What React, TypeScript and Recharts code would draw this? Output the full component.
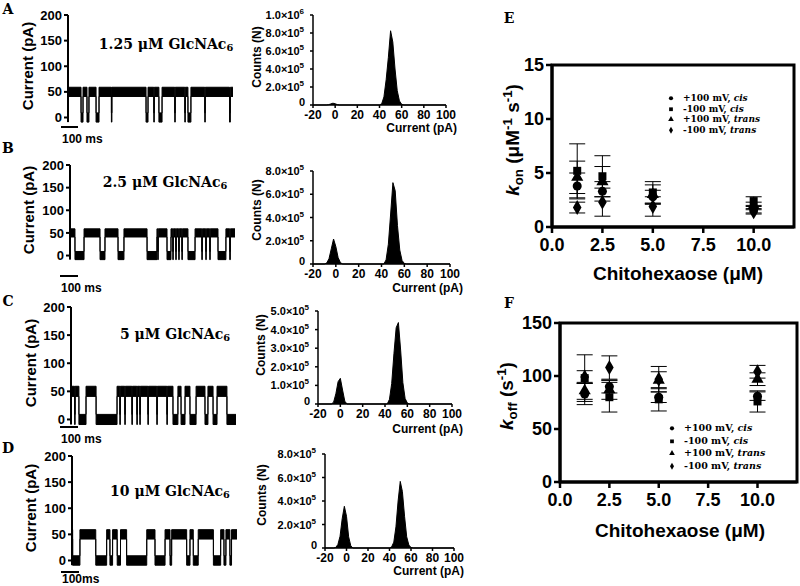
import React from 'react';
import {
  Area,
  ComposedChart,
  ErrorBar,
  Legend,
  ReferenceArea,
  Scatter,
  ScatterChart,
  Symbols,
  XAxis,
  YAxis,
  ZAxis,
} from 'recharts';

const sans = "'Liberation Sans', Arial, sans-serif";
const serif = "'DejaVu Serif', serif";

// single-channel recordings: closed-state windows in ms
const traceLenMs = 1000;
const openLevel = 50;
const closedLevel = 0;
const noiseHalf = 9;
const closedA = [[79, 91], [115, 127], [170, 188], [263, 266], [473, 485], [520, 523], [551, 570], [647, 650], [708, 711], [727, 745], [829, 832], [979, 984]];
const closedB = [[30, 85], [182, 212], [291, 327], [467, 527], [532, 535], [588, 612], [623, 626], [641, 644], [659, 662], [678, 681], [715, 758], [799, 802], [823, 826], [847, 850], [897, 945], [968, 972]];
const closedC = [[22, 25], [48, 91], [152, 279], [296, 299], [326, 329], [369, 372], [399, 402], [417, 420], [466, 469], [520, 523], [581, 584], [618, 648], [667, 691], [721, 758], [812, 830], [861, 885], [945, 1000]];
const closedD = [[4, 48], [144, 210], [230, 246], [274, 294], [331, 453], [503, 564], [594, 604], [695, 715], [735, 765], [857, 901], [921, 933], [957, 967]];
const traceTicks = [0, 50, 100, 150, 200];

// all-points histograms
const histBinsA = [-20, -8, -6, -4, -2, 0, 2, 4, 40, 42, 44, 46, 48, 50, 52, 54, 56, 58, 60, 62, 100];
const histCountsA = [0, 0, 3000, 12000, 20000, 14000, 4000, 0, 0, 15000, 90000, 280000, 530000, 825000, 700000, 400000, 160000, 45000, 8000, 0, 0];
const histBinsB = [-20, -10, -8, -6, -4, -2, 0, 2, 4, 6, 42, 44, 46, 48, 50, 52, 54, 56, 58, 60, 62, 100];
const histCountsB = [0, 0, 8000, 45000, 130000, 215000, 150000, 55000, 12000, 0, 0, 35000, 170000, 430000, 700000, 630000, 330000, 120000, 30000, 5000, 0, 0];
const histBinsC = [-20, -8, -6, -4, -2, 0, 2, 4, 6, 42, 44, 46, 48, 50, 52, 54, 56, 58, 60, 62, 100];
const histCountsC = [0, 0, 10000, 55000, 120000, 138000, 75000, 15000, 0, 0, 25000, 110000, 270000, 410000, 438000, 290000, 115000, 30000, 5000, 0, 0];
const histBinsD = [-20, -12, -10, -8, -6, -4, -2, 0, 2, 4, 6, 40, 42, 44, 46, 48, 50, 52, 54, 56, 58, 60, 62, 100];
const histCountsD = [0, 0, 5000, 30000, 100000, 250000, 355000, 270000, 95000, 18000, 0, 0, 10000, 50000, 180000, 400000, 567000, 480000, 270000, 95000, 25000, 5000, 0, 0];
const histXTicks = [-20, 0, 20, 40, 60, 80, 100];
const histTicksA = [0, 200000, 400000, 600000, 800000, 1000000];
const histTicksB = [0, 200000, 400000, 600000, 800000];
const histTicksC = [0, 100000, 200000, 300000, 400000, 500000];
const histTicksD = [0, 200000, 400000, 600000, 800000];

// binding kinetics
const concs = [1.25, 2.5, 5, 10];
const concTicks = [0, 2.5, 5, 7.5, 10];
const seriesNames = ['+100 mV, cis', '-100 mV, cis', '+100 mV, trans', '-100 mV, trans'];
const seriesShapes = ['circle', 'square', 'triangle', 'diamond'];

const konPlusCis = [3.8, 3.3, 2.8, 1.6];
const konPlusCisErr = [1.2, 0.9, 0.6, 0.3];
const konMinusCis = [5.2, 4.7, 3.2, 2.4];
const konMinusCisErr = [2.5, 1.9, 1.0, 0.4];
const konPlusTrans = [4.6, 4.2, 3.0, 2.0];
const konPlusTransErr = [1.5, 1.4, 0.9, 0.3];
const konMinusTrans = [1.8, 2.3, 1.9, 1.4];
const konMinusTransErr = [0.5, 1.3, 0.9, 0.2];

const koffPlusCis = [83, 90, 80, 81];
const koffPlusCisErr = [10, 6, 5, 4];
const koffMinusCis = [98, 80, 78, 76];
const koffMinusCisErr = [22, 14, 11, 10];
const koffPlusTrans = [86, 87, 96, 97];
const koffPlusTransErr = [8, 9, 8, 6];
const koffMinusTrans = [99, 108, 97, 104];
const koffMinusTransErr = [6, 11, 12, 6];

function traceRows(closed: number[][]) {
  const open = [openLevel - noiseHalf, openLevel + noiseHalf];
  const shut = [closedLevel - noiseHalf, closedLevel + noiseHalf];
  const rows: { t: number; band: number[] }[] = [];
  if (closed[0][0] > 0) rows.push({ t: 0, band: open });
  closed.forEach(([a, b]) => {
    if (a > 0) rows.push({ t: a, band: open });
    rows.push({ t: a, band: shut }, { t: b, band: shut });
    if (b < traceLenMs) rows.push({ t: b, band: open });
  });
  if (closed[closed.length - 1][1] < traceLenMs) rows.push({ t: traceLenMs, band: open });
  return rows;
}

function Label({ cx, cy, rot = 0, anchor = 'center', style, children }: any) {
  const tx = anchor === 'end' ? '-100%' : anchor === 'start' ? '0' : '-50%';
  return (
    <div
      style={{
        position: 'absolute',
        left: cx,
        top: cy,
        transform: `translate(${tx}, -50%) rotate(${rot}deg)`,
        whiteSpace: 'nowrap',
        lineHeight: 1,
        color: '#000',
        ...style,
      }}
    >
      {children}
    </div>
  );
}

const sub = { fontSize: '0.7em', verticalAlign: '-0.25em' };
const sup = { fontSize: '0.7em', verticalAlign: '0.55em' };

function TracePanel({ closed, x0, x1, y200, y0 }: any) {
  const yw = 40;
  const mt = 10;
  const mr = 3;
  const mb = 8;
  const yMin = y0 + ((y0 - y200) * 8) / 200;
  return (
    <div style={{ position: 'absolute', left: x0 - yw, top: y200 - mt }}>
      <ComposedChart
        width={yw + x1 - x0 + mr}
        height={yMin - y200 + mt + mb}
        data={traceRows(closed)}
        margin={{ top: mt, right: mr, bottom: mb, left: 0 }}
      >
        <XAxis dataKey="t" type="number" domain={[0, traceLenMs]} hide />
        <YAxis
          type="number"
          domain={[-8, 200]}
          ticks={traceTicks}
          interval={0}
          width={yw}
          tickSize={4}
          tickMargin={2}
          axisLine={{ stroke: '#000', strokeWidth: 2 }}
          tickLine={{ stroke: '#000', strokeWidth: 2 }}
          tick={{ fill: '#000', fontSize: 13, fontWeight: 700, fontFamily: sans }}
        />
        <Area
          dataKey="band"
          type="linear"
          stroke="#000"
          strokeWidth={1}
          fill="#000"
          fillOpacity={1}
          dot={false}
          activeDot={false}
          isAnimationActive={false}
        />
      </ComposedChart>
    </div>
  );
}

function CountTick({ x, y, payload }: any) {
  const v = payload.value;
  const font = { fill: '#000', fontSize: 11, fontWeight: 700, fontFamily: sans };
  if (v === 0) {
    return (
      <text x={x - 3} y={y} dy={1} textAnchor="end" {...font}>
        0
      </text>
    );
  }
  const exp = Math.floor(Math.log10(v) + 1e-9);
  const mant = (v / Math.pow(10, exp)).toFixed(1);
  return (
    <text x={x - 4} y={y} dy={4} textAnchor="end" {...font}>
      {mant}×10
      <tspan dy={-5} fontSize={8}>
        {exp}
      </tspan>
    </text>
  );
}

function HistPanel({ bins, counts, ticks, x0, x1, yTop, yZero }: any) {
  const yw = 56;
  const xh = 22;
  const mt = 10;
  const mr = 14;
  const rows = bins.map((b: number, i: number) => ({ i: b, n: counts[i] }));
  return (
    <div style={{ position: 'absolute', left: x0 - yw, top: yTop - mt }}>
      <ComposedChart
        width={yw + x1 - x0 + mr}
        height={mt + yZero - yTop + xh}
        data={rows}
        margin={{ top: mt, right: mr, bottom: 0, left: 0 }}
      >
        <XAxis
          dataKey="i"
          type="number"
          domain={[-20, 100]}
          ticks={histXTicks}
          interval={0}
          height={xh}
          tickSize={3}
          tickMargin={2}
          axisLine={{ stroke: '#000', strokeWidth: 1.5 }}
          tickLine={{ stroke: '#000', strokeWidth: 1.5 }}
          tick={{ fill: '#000', fontSize: 12, fontWeight: 700, fontFamily: sans }}
        />
        <YAxis
          type="number"
          domain={[0, ticks[ticks.length - 1]]}
          ticks={ticks}
          interval={0}
          width={yw}
          tickSize={3}
          tickMargin={2}
          axisLine={{ stroke: '#000', strokeWidth: 1.5 }}
          tickLine={{ stroke: '#000', strokeWidth: 1.5 }}
          tick={<CountTick />}
        />
        <Area
          dataKey="n"
          type="linear"
          stroke="#000"
          strokeWidth={1}
          fill="#000"
          fillOpacity={1}
          dot={false}
          activeDot={false}
          isAnimationActive={false}
        />
      </ComposedChart>
    </div>
  );
}

function legendContent(rowH: number, fontSize: number) {
  return (props: any) => (
    <div style={{ fontFamily: serif, fontSize, fontWeight: 700, lineHeight: `${rowH}px`, color: '#000' }}>
      {(props.payload || []).map((e: any) => {
        const [volt, side] = String(e.value).split(', ');
        return (
          <div key={e.value} style={{ display: 'flex', alignItems: 'center', whiteSpace: 'nowrap', height: rowH }}>
            <svg width={16} height={rowH} style={{ display: 'block' }}>
              <Symbols cx={4} cy={rowH / 2} type={e.type} size={14} fill="#000" />
            </svg>
            <span>
              {volt}, <i>{side}</i>
            </span>
          </div>
        );
      })}
    </div>
  );
}

function RatePanel({ values, errors, yMax, yTicks, x0, x1, yTop, yZero, legendX, legendY, rowH, legendFont }: any) {
  const yw = 50;
  const xh = 36;
  const mt = 12;
  const mr = 6;
  const left = x0 - yw;
  const top = yTop - mt;
  return (
    <div style={{ position: 'absolute', left, top }}>
      <ScatterChart
        width={yw + x1 - x0 + mr}
        height={mt + yZero - yTop + xh}
        margin={{ top: mt, right: mr, bottom: 0, left: 0 }}
      >
        <XAxis
          dataKey="x"
          type="number"
          domain={[0, 12]}
          ticks={concTicks}
          interval={0}
          height={xh}
          tickFormatter={(v: number) => v.toFixed(1)}
          tickSize={6}
          tickMargin={5}
          axisLine={{ stroke: '#000', strokeWidth: 3 }}
          tickLine={{ stroke: '#000', strokeWidth: 2.5 }}
          tick={{ fill: '#000', fontSize: 18, fontWeight: 700, fontFamily: sans }}
        />
        <YAxis
          dataKey="y"
          type="number"
          domain={[0, yMax]}
          ticks={yTicks}
          interval={0}
          width={yw}
          tickSize={6}
          tickMargin={2}
          axisLine={{ stroke: '#000', strokeWidth: 3 }}
          tickLine={{ stroke: '#000', strokeWidth: 2.5 }}
          tick={{ fill: '#000', fontSize: 18, fontWeight: 700, fontFamily: sans }}
        />
        <ZAxis range={[45, 45]} />
        <ReferenceArea x1={0} x2={12} y1={0} y2={yMax} fill="none" stroke="#000" strokeWidth={3} />
        {seriesNames.map((name, s) => (
          <Scatter
            key={name}
            name={name}
            data={concs.map((c, i) => ({ x: c, y: values[s][i], err: errors[s][i] }))}
            shape={seriesShapes[s] as any}
            legendType={seriesShapes[s] as any}
            fill="#000"
            isAnimationActive={false}
          >
            <ErrorBar dataKey="err" direction="y" width={8} stroke="#000" strokeWidth={1} />
          </Scatter>
        ))}
        <Legend
          layout="vertical"
          align="center"
          verticalAlign="middle"
          itemSorter={(e: any) => seriesNames.indexOf(e.value)}
          content={legendContent(rowH, legendFont)}
          wrapperStyle={{ left: legendX - left, top: legendY - top, width: 140 }}
        />
      </ScatterChart>
    </div>
  );
}

export default function App() {
  const letter = { fontFamily: serif, fontSize: 14, fontWeight: 700 };
  const conc = { fontFamily: serif, fontSize: 14, fontWeight: 700 };
  const axisTitle = { fontFamily: sans, fontSize: 15, fontWeight: 700 };
  const histTitle = { fontFamily: sans, fontSize: 12, fontWeight: 700 };
  const rateTitle = { fontFamily: sans, fontSize: 19, fontWeight: 700 };
  const msText = { fontFamily: sans, fontSize: 12, fontWeight: 700 };

  const traces = [
    { closed: closedA, x0: 68, x1: 233, y200: 15, y0: 118 },
    { closed: closedB, x0: 70, x1: 235, y200: 165, y0: 256 },
    { closed: closedC, x0: 71, x1: 236, y200: 307, y0: 420 },
    { closed: closedD, x0: 72, x1: 237, y200: 456, y0: 561 },
  ];
  const hists = [
    { bins: histBinsA, counts: histCountsA, ticks: histTicksA, x0: 313, x1: 446, yTop: 15, yZero: 105 },
    { bins: histBinsB, counts: histCountsB, ticks: histTicksB, x0: 313, x1: 450, yTop: 171, yZero: 264 },
    { bins: histBinsC, counts: histCountsC, ticks: histTicksC, x0: 318, x1: 452, yTop: 311, yZero: 404 },
    { bins: histBinsD, counts: histCountsD, ticks: histTicksD, x0: 325, x1: 454, yTop: 454, yZero: 548 },
  ];
  const scaleBars = [
    { x: 61, y: 127, w: 17, dy: 12, label: '100 ms' },
    { x: 60, y: 276, w: 18, dy: 12, label: '100 ms' },
    { x: 60, y: 427, w: 18, dy: 12, label: '100 ms' },
    { x: 61, y: 572, w: 18, dy: 7, label: '100ms' },
  ];

  return (
    <div style={{ position: 'absolute', left: 0, top: 0, width: 800, height: 586, background: '#fff', overflow: 'hidden' }}>
      {traces.map((t, i) => (
        <TracePanel key={i} {...t} />
      ))}
      {hists.map((h, i) => (
        <HistPanel key={i} {...h} />
      ))}
      {scaleBars.map((b, i) => (
        <React.Fragment key={i}>
          <div style={{ position: 'absolute', left: b.x, top: b.y - 1, width: b.w, height: 2, background: '#000' }} />
          <Label cx={b.x + 1} cy={b.y + b.dy} anchor="start" style={msText}>
            {b.label}
          </Label>
        </React.Fragment>
      ))}

      <Label cx={8} cy={9} style={letter}>A</Label>
      <Label cx={8} cy={148} style={letter}>B</Label>
      <Label cx={8} cy={301} style={letter}>C</Label>
      <Label cx={8} cy={448} style={letter}>D</Label>
      <Label cx={509} cy={18} style={letter}>E</Label>
      <Label cx={509} cy={303} style={letter}>F</Label>

      <Label cx={166} cy={45} style={conc}>1.25 μM GlcNAc<span style={sub}>6</span></Label>
      <Label cx={165} cy={183} style={conc}>2.5 μM GlcNAc<span style={sub}>6</span></Label>
      <Label cx={175} cy={335} style={conc}>5 μM GlcNAc<span style={sub}>6</span></Label>
      <Label cx={170} cy={492} style={conc}>10 μM GlcNAc<span style={sub}>6</span></Label>

      <Label cx={27} cy={66} rot={-90} style={axisTitle}>Current (pA)</Label>
      <Label cx={28} cy={210} rot={-90} style={axisTitle}>Current (pA)</Label>
      <Label cx={30} cy={363} rot={-90} style={axisTitle}>Current (pA)</Label>
      <Label cx={30} cy={508} rot={-90} style={axisTitle}>Current (pA)</Label>

      <Label cx={257} cy={57} rot={-90} style={histTitle}>Counts (N)</Label>
      <Label cx={257} cy={210} rot={-90} style={histTitle}>Counts (N)</Label>
      <Label cx={261} cy={345} rot={-90} style={histTitle}>Counts (N)</Label>
      <Label cx={262} cy={495} rot={-90} style={histTitle}>Counts (N)</Label>

      <Label cx={457} cy={128} anchor="end" style={histTitle}>Current (pA)</Label>
      <Label cx={463} cy={288} anchor="end" style={histTitle}>Current (pA)</Label>
      <Label cx={463} cy={429} anchor="end" style={histTitle}>Current (pA)</Label>
      <Label cx={464} cy={571} anchor="end" style={histTitle}>Current (pA)</Label>

      <RatePanel
        values={[konPlusCis, konMinusCis, konPlusTrans, konMinusTrans]}
        errors={[konPlusCisErr, konMinusCisErr, konPlusTransErr, konMinusTransErr]}
        yMax={15}
        yTicks={[0, 5, 10, 15]}
        x0={552}
        x1={794}
        yTop={65}
        yZero={227}
        legendX={667}
        legendY={93}
        rowH={10.5}
        legendFont={9}
      />
      <RatePanel
        values={[koffPlusCis, koffMinusCis, koffPlusTrans, koffMinusTrans]}
        errors={[koffPlusCisErr, koffMinusCisErr, koffPlusTransErr, koffMinusTransErr]}
        yMax={150}
        yTicks={[0, 50, 100, 150]}
        x0={560}
        x1={797}
        yTop={323}
        yZero={482}
        legendX={668}
        legendY={422}
        rowH={12.7}
        legendFont={9.5}
      />

      <Label cx={513} cy={140} rot={-90} style={rateTitle}>
        <i>k</i>
        <span style={sub}>on</span> (μM<span style={sup}>-1</span> s<span style={sup}>-1</span>)
      </Label>
      <Label cx={507} cy={396} rot={-90} style={rateTitle}>
        <i>k</i>
        <span style={sub}>off</span> (s<span style={sup}>-1</span>)
      </Label>
      <Label cx={678} cy={273} style={rateTitle}>Chitohexaose (μM)</Label>
      <Label cx={680} cy={530} style={rateTitle}>Chitohexaose (μM)</Label>
    </div>
  );
}
